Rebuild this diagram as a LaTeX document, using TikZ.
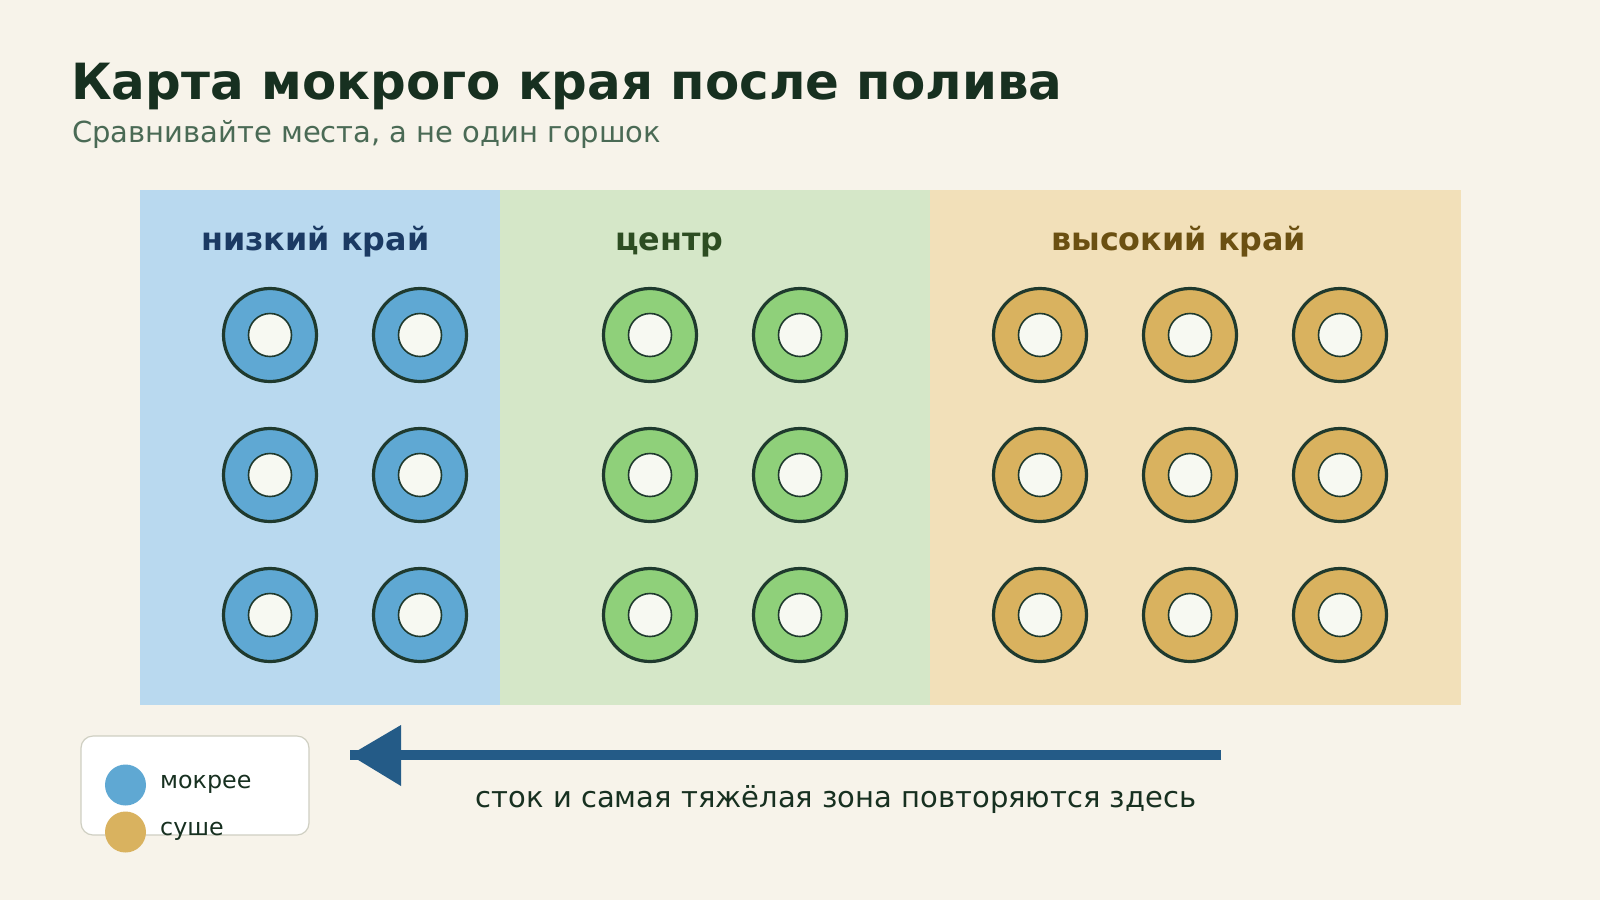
\documentclass[tikz,border=0pt]{standalone}
\usepackage{fontspec}
\setmainfont{DejaVu Sans}
\definecolor{bg}{HTML}{F7F3EA}
\definecolor{panelblue}{HTML}{B9D9EF}
\definecolor{panelgreen}{HTML}{D5E7C8}
\definecolor{paneltan}{HTML}{F2E0B9}
\definecolor{fillblue}{HTML}{5FA8D3}
\definecolor{fillgreen}{HTML}{8FD07A}
\definecolor{filltan}{HTML}{D9B25F}
\definecolor{potline}{HTML}{1F3A2E}
\definecolor{potcore}{HTML}{F7F9F2}
\definecolor{titlecol}{HTML}{173020}
\definecolor{subcol}{HTML}{4A6A55}
\definecolor{lblblue}{HTML}{1B3A63}
\definecolor{lblgreen}{HTML}{2D4D22}
\definecolor{lbltan}{HTML}{6B5012}
\definecolor{arrowcol}{HTML}{245B87}
\definecolor{legline}{HTML}{CFCFC2}
\begin{document}
\begin{tikzpicture}[x=1pt,y=-1pt,
  pot/.style={circle,draw=potline,line width=3.2pt,fill=#1,minimum size=93pt,inner sep=0pt},
  potcorestyle/.style={circle,draw=potline,line width=1.6pt,fill=potcore,minimum size=43pt,inner sep=0pt},
  paneltitle/.style={anchor=base west,inner sep=0pt,font=\bfseries\fontsize{31.8}{38}\selectfont},
  legdot/.style={circle,fill=#1,minimum size=41pt,inner sep=0pt},
  legtext/.style={anchor=base west,inner sep=0pt,text=titlecol,font=\fontsize{23.8}{28}\selectfont}]
\fill[bg] (0,0) rectangle (1600,900);
\useasboundingbox (0,0) rectangle (1600,900);
% title
\node[anchor=base west,inner sep=0pt,text=titlecol,font=\bfseries\fontsize{49.9}{60}\selectfont] (title) at (71,99) {Карта мокрого края после полива};
\node[anchor=base west,inner sep=0pt,text=subcol,font=\fontsize{29}{34}\selectfont] (subtitle) at (72,142) {Сравнивайте места, а не один горшок};
% panels
\fill[panelblue] (140,190) rectangle (500,705);
\fill[panelgreen] (500,190) rectangle (930,705);
\fill[paneltan] (930,190) rectangle (1461,705);
\node[paneltitle,text=lblblue] (lowlbl) at (201,250) {низкий край};
\node[paneltitle,text=lblgreen] (midlbl) at (615,250) {центр};
\node[paneltitle,text=lbltan] (highlbl) at (1051,250) {высокий край};
% pots
\foreach \x/\c [count=\i] in {270/fillblue,420/fillblue,650/fillgreen,800/fillgreen,1040/filltan,1190/filltan,1340/filltan}{
  \foreach \y [count=\j] in {335,475,615}{
    \node[pot=\c] (p\i\j) at (\x,\y) {};
    \node[potcorestyle] (c\i\j) at (p\i\j.center) {};
  }
}
% legend
\draw[legline,line width=1.2pt,fill=white,rounded corners=12pt] (81,736) rectangle (309,835);
\node[legdot=fillblue] (legwet) at (125.5,785) {};
\node[legdot=filltan] (legdry) at (125.5,832) {};
\node[legtext] (wettxt) at (160,788) {мокрее};
\node[legtext] (drytxt) at (160,835) {суше};
% arrow
\coordinate (astart) at (1221,755);
\coordinate (abase) at (401,755);
\coordinate (atip) at (350,755);
\draw[arrowcol,line width=10pt] (astart) -- (atip);
\fill[arrowcol] (401,725) -- (atip) -- (401,786) -- cycle;
\node[anchor=base west,inner sep=0pt,text=titlecol,font=\fontsize{29}{34}\selectfont] (arrowtxt) at (475.5,807) {сток и самая тяжёлая зона повторяются здесь};
\end{tikzpicture}
\end{document}
